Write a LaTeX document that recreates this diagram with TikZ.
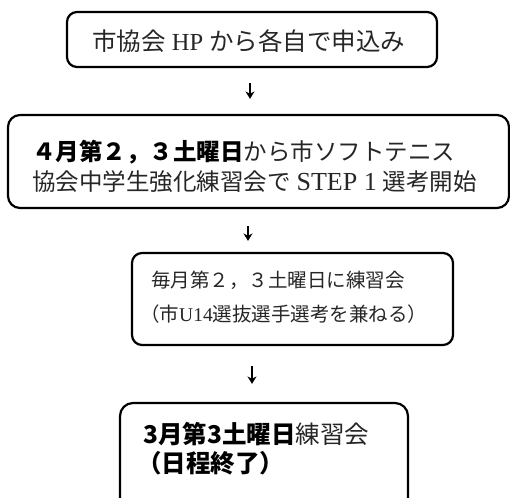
\documentclass[tikz,border=0pt]{standalone}
\usepackage{fontspec}
\setmainfont{Liberation Serif}
\newfontfamily\jp{Noto Sans CJK JP}
\usetikzlibrary{arrows.meta}
\tikzset{
  box/.style={draw, line width=2.2pt, inner sep=0pt},
  txt/.style={anchor=base west, inner sep=0pt, text=black!85},
  txtA/.style={txt, font=\fontsize{24.5}{28}\selectfont},
  txtB/.style={txt, font=\fontsize{23.5}{28}\selectfont},
  txtC/.style={txt, font=\fontsize{19.5}{24}\selectfont},
  arr/.style={line width=2pt, -{Stealth[length=7.5pt,width=9pt]}},
}
\begin{document}
\begin{tikzpicture}[x=1pt,y=-1pt]
\useasboundingbox (0,0) rectangle (510,497);
\clip (0,0) rectangle (510,497);
% boxes
\node[box, rounded corners=10pt, minimum width=370pt, minimum height=55pt] (b1) at (252,39.5) {};
\node[box, rounded corners=12pt, minimum width=501pt, minimum height=93pt] (b2) at (258.5,161.5) {};
\node[box, rounded corners=10pt, minimum width=321pt, minimum height=92pt] (b3) at (292.5,299) {};
\node[box, rounded corners=13pt, minimum width=288pt, minimum height=127pt] (b4) at (264,466.5) {};
% arrow positions
\coordinate (ax1) at (250,0);
\coordinate (ax2) at (248,0);
\coordinate (ax3) at (252,0);
\draw[arr, shorten <=15pt, shorten >=15pt] (b1.south -| ax1) -- (b2.north -| ax1);
\draw[arr, shorten <=17pt, shorten >=11pt] (b2.south -| ax2) -- (b3.north -| ax2);
\draw[arr, shorten <=20pt, shorten >=18pt] (b3.south -| ax3) -- (b4.north -| ax3);
% texts
\node[txtA] (t1) at (92,51) {{\jp 市協会} HP {\jp から各自で申込み}};
\node[txtB] (t2a) at (32,160) {{\jp\bfseries\color{black}４月第２，３土曜日}{\jp から市ソフトテニス}};
\node[txtB] (t2b) at (32,190) {{\jp 協会中学生強化練習会で} {\fontsize{26}{28}\selectfont STEP 1} {\jp 選考開始}};
\node[txtC] (t3a) at (151,287) {{\jp 毎月第２，３土曜日に練習会}};
\node[txtC] (t3b) at (140,321) {{\jp （市}U14{\jp 選抜選手選考を兼ねる）}};
\node[txtA] (t4a) at (143,443) {{\jp\bfseries\color{black}3月第3土曜日}{\jp 練習会}};
\node[txtA] (t4b) at (137,472) {{\jp\bfseries\color{black}（日程終了）}};
\end{tikzpicture}
\end{document}
